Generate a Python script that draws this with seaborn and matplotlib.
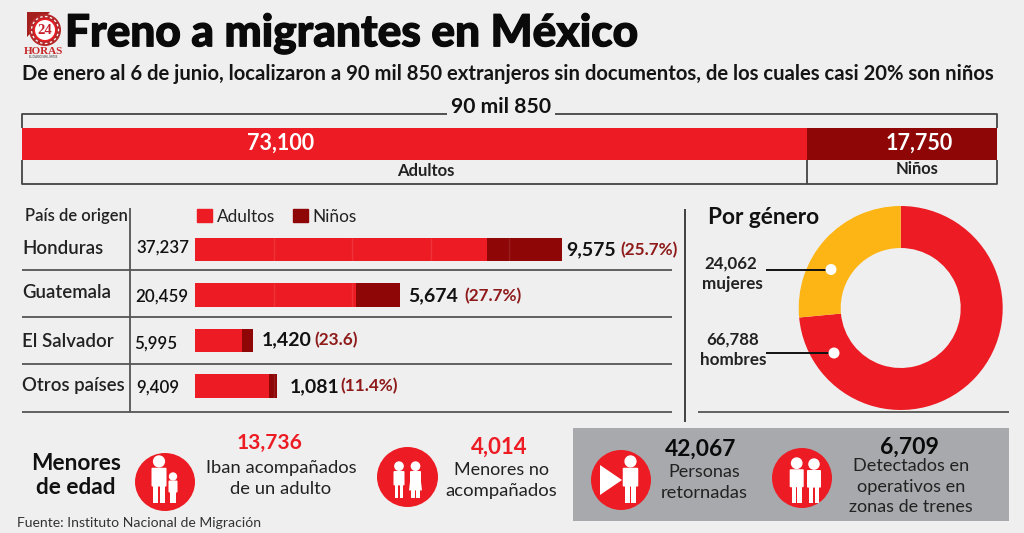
import matplotlib
matplotlib.use("Agg")
import matplotlib.pyplot as plt
import matplotlib.patheffects as pe
from matplotlib.patches import Rectangle, Circle, Ellipse, FancyBboxPatch, Polygon, Patch
import seaborn as sns

# Totals
total_label = "90 mil 850"
group_names = ["Adultos", "Niños"]
group_values = [73100, 17750]

# Country of origin
countries = ["Honduras", "Guatemala", "El Salvador", "Otros países"]
adults = [37237, 20459, 5995, 9409]
children = [9575, 5674, 1420, 1081]
child_share = ["(25.7%)", "(27.7%)", "(23.6)", "(11.4%)"]

# Gender split
gender_names = ["hombres", "mujeres"]
gender_values = [66788, 24062]

# Headline counters
accompanied = 13736
unaccompanied = 4014
returned = 42067
on_trains = 6709

RED = "#ED1C24"
DARK = "#8E0606"
YELLOW = "#FDB515"
BG = "#EFEFEF"
GREY = "#A7A9AC"
INK = "#111111"
LINE = "#444444"
W, H = 1024, 533

sns.set_theme(style="white")
plt.rcParams["font.family"] = ["Lato", "DejaVu Sans"]

fig = plt.figure(figsize=(W / 100, H / 100), dpi=100, facecolor=BG)


def px_axes(x0, y0, x1, y1, **kw):
    """Axes placed by pixel box, y measured from the top of the figure."""
    ax = fig.add_axes([x0 / W, 1 - y1 / H, (x1 - x0) / W, (y1 - y0) / H], **kw)
    ax.set_axis_off()
    return ax


# Overlay in pixel units for rules, text and pictograms, above the chart axes
ov = px_axes(0, 0, W, H, zorder=3)
ov.set_xlim(0, W)
ov.set_ylim(H, 0)


def txt(x, y, s, size, weight="normal", color=INK, ha="center", heavy=0, **kw):
    t = ov.text(x, y, s, fontsize=size, fontweight=weight, color=color,
                ha=ha, va="center", zorder=6, **kw)
    if heavy:
        t.set_path_effects([pe.withStroke(linewidth=heavy, foreground=color)])
    return t


def rule(xs, ys, color=LINE, lw=1.3):
    ov.plot(xs, ys, color=color, lw=lw, solid_capstyle="butt", zorder=3)


def person(cx, top, h, w, skirt=False):
    """White pictogram: head, torso and two legs."""
    r = h * 0.115
    ov.add_patch(Ellipse((cx, top + r), r * 2, r * 2, color="white", zorder=5))
    torso_top = top + 2 * r + h * 0.02
    torso_h = h * 0.40
    ov.add_patch(FancyBboxPatch((cx - w / 2 + 1, torso_top + 1), w - 2, torso_h - 2,
                                boxstyle="round,pad=1", color="white", lw=0, zorder=5))
    leg_top = torso_top + torso_h - 1
    leg_w = w * 0.32
    leg_h = top + h - leg_top
    gap = w * 0.05
    ov.add_patch(Rectangle((cx - gap - leg_w, leg_top), leg_w, leg_h, color="white", lw=0, zorder=5))
    ov.add_patch(Rectangle((cx + gap, leg_top), leg_w, leg_h, color="white", lw=0, zorder=5))
    if skirt:
        ov.add_patch(Polygon([(cx - w / 2 + 1, torso_top + 2), (cx + w / 2 - 1, torso_top + 2),
                              (cx + w / 2 + 1, leg_top + 6), (cx - w / 2 - 1, leg_top + 6)],
                             color="white", lw=0, zorder=5))


def badge(cx, cy, rx=30, ry=30):
    ov.add_patch(Ellipse((cx, cy), rx * 2, ry * 2, color=RED, lw=0, zorder=4))


# Header with the masthead mark
ov.add_patch(Polygon([(27, 12), (50, 12), (27, 37)], color="#A3201F", lw=0, zorder=2))
ov.add_patch(Circle((45, 30), 16, color="#B5282A", lw=0, zorder=3))
ov.add_patch(Circle((45, 30), 13.5, fill=False, ec="white", lw=0.9, ls=(0, (2, 2)), zorder=4))
ov.add_patch(Circle((45, 30), 11.5, color=RED, lw=0, zorder=4))
ov.add_patch(Circle((45, 30), 10, color="white", lw=0, zorder=4))
txt(45, 30.5, "24", 10.5, "bold", "#C7202A", family="Liberation Serif")
txt(43.5, 51, "HORAS", 8, "bold", "#C7282A", family="Liberation Serif")
txt(43.5, 57, "EL DIARIO SIN LÍMITES", 1.9, "bold", "#555555")

txt(65, 33.5, "Freno a migrantes en México", 31.8, "black", "#0A0A0A", ha="left", heavy=0.9)
txt(22, 74, "De enero al 6 de junio, localizaron a 90 mil 850 extranjeros sin documentos, de los cuales casi 20% son niños",
    14.6, "bold", "#151515", ha="left")

# Overall bar, stacked by drawing the grand total under the adult share
top = px_axes(22, 128, 997, 160, zorder=2)
sns.barplot(x=[sum(group_values)], y=["Total"], color=DARK, saturation=1, width=1, linewidth=0, ax=top)
sns.barplot(x=[group_values[0]], y=["Total"], color=RED, saturation=1, width=1, linewidth=0, ax=top)
top.set_xlim(0, sum(group_values))
top.set_axis_off()

split_px = 22 + 975 * group_values[0] / sum(group_values)
rule([22, 22, 447], [128, 113.5, 113.5])
rule([555, 997, 997], [113.5, 113.5, 128])
rule([22, 22, 997, 997], [160, 183.5, 183.5, 160])
rule([split_px, split_px], [160, 183.5])
txt(501, 107, total_label, 15.2, "bold")
txt(281, 143, f"{group_values[0]:,}", 15.5, "bold", "white")
txt(919, 143, f"{group_values[1]:,}", 15.5, "bold", "white")
txt(426, 170.5, group_names[0], 12, "bold", "#222222")
txt(917, 169.5, group_names[1], 11.9, "bold", "#222222")

# Country table: same x scale for every row
cx = px_axes(195, 226.75, 195 + 471, 408.75, zorder=2)
totals = [a + c for a, c in zip(adults, children)]
sns.barplot(x=totals, y=countries, color=DARK, saturation=1, width=23.5 / 45.5, linewidth=0, ax=cx)
sns.barplot(x=adults, y=countries, color=RED, saturation=1, width=23.5 / 45.5, linewidth=0, ax=cx)
cx.set_xlim(0, 60000)
cx.set_ylim(3.5, -0.5)
cx.set_axis_off()
for i, t in enumerate(totals):
    seams = [v for v in range(10000, 60000, 10000) if v < t]
    cx.vlines(seams, i - 11.75 / 45.5, i + 11.75 / 45.5, color="white", alpha=0.1, lw=1, zorder=5)

name_y = [248, 292.5, 341.5, 386]
adult_y = [248, 296.5, 344, 388]
value_y = [250, 296, 340, 386.5]
adult_x = [136, 135, 134, 136]
child_x = [566, 408, 262, 290]
share_x = [620, 464, 314, 340]
for i, c in enumerate(countries):
    txt(22, name_y[i], c, 13.4, "semibold", "#222222", ha="left")
    txt(adult_x[i], adult_y[i], f"{adults[i]:,}", 12.2, "semibold", ha="left")
    txt(child_x[i], value_y[i], f"{children[i]:,}", 14, "bold", ha="left")
    txt(share_x[i], value_y[i], child_share[i], 12.3, "bold", "#8E1A1A", ha="left")

for y in (270, 317, 364, 412):
    rule([22, 672], [y, y], color="#555555")
rule([130, 130], [208, 412], color="#555555")
txt(25, 216, "País de origen", 11.9, "semibold", "#222222", ha="left")
ov.legend(handles=[Patch(color=RED, label=group_names[0]), Patch(color=DARK, label=group_names[1])],
          loc="center left", bbox_to_anchor=(197, 216.5), bbox_transform=ov.transData,
          ncols=2, frameon=False, fontsize=12.4, handlelength=0.87, handleheight=0.7,
          handletextpad=0.3, columnspacing=1.0, labelcolor="#222222", borderpad=0, borderaxespad=0)

# Gender ring
rule([685, 685], [209, 422], color="#333333")
rule([698, 1009], [412, 412], color="#555555")
txt(708, 218, "Por género", 16.3, "bold", ha="left")
pie = px_axes(798.7, 206, 1002.7, 410, zorder=2)
pie.pie(gender_values, colors=[RED, YELLOW], startangle=90, counterclock=False, radius=1,
        wedgeprops=dict(width=1 - 60 / 102, linewidth=0))
pie.set_xlim(-1, 1)
pie.set_ylim(-1, 1)
txt(731, 264, f"{gender_values[1]:,}", 12.2, "bold", "#222222")
txt(732, 284, gender_names[1], 12.3, "bold", "#222222")
txt(733, 340, f"{gender_values[0]:,}", 12.2, "bold", "#222222")
txt(733, 360, gender_names[0], 12.3, "bold", "#222222")
rule([766, 830], [269.5, 269.5], color="#111111", lw=1.4)
rule([766, 834], [353, 353], color="#111111", lw=1.4)
for p in ((831, 269.5), (834, 353)):
    ov.add_patch(Circle(p, 5.5, color="white", lw=0, zorder=5))

# Bottom counters
txt(76, 463, "Menores", 16.3, "bold")
txt(76, 488, "de edad", 16.3, "bold")
badge(165, 482, 30, 29)
person(159, 456, 47, 15)
person(173, 473, 30, 9)
txt(270, 443, f"{accompanied:,}", 15, "bold", RED)
txt(281, 468, "Iban acompañados", 13.2, "normal", "#222222")
txt(281, 489, "de un adulto", 13.2, "normal", "#222222")
badge(407.5, 477, 30.5, 30)
person(399, 462, 36, 11)
person(415.5, 462, 36, 11, skirt=True)
txt(499, 447, f"{unaccompanied:,}", 16, "bold", RED)
txt(501, 470, "Menores no", 13, "normal", "#222222")
txt(501, 491, "acompañados", 13.3, "normal", "#222222")
txt(17, 523, "Fuente: Instituto Nacional de Migración", 10.1, "normal", "#333333", ha="left")

ov.add_patch(Rectangle((573, 428), 436, 93, color=GREY, lw=0, zorder=1))
badge(621, 480)
ov.add_patch(Polygon([(600, 465), (600, 495), (622, 480)], color="white", lw=0, zorder=5))
person(630.5, 456, 47, 15.5)
txt(701, 449, f"{returned:,}", 16.4, "bold", "#0A0A0A")
txt(704, 472, "Personas", 13, "normal", "#222222")
txt(704, 493, "retornadas", 13.2, "normal", "#222222")
badge(802, 478)
person(796.7, 458, 45, 14)
person(814, 459, 44, 14)
txt(909, 447, f"{on_trains:,}", 16.6, "bold", "#0A0A0A")
txt(911, 466, "Detectados en", 13.1, "normal", "#222222")
txt(911, 487, "operativos en", 13.1, "normal", "#222222")
txt(911, 507, "zonas de trenes", 13, "normal", "#222222")

fig.savefig("out.png", dpi=100, facecolor=BG)
